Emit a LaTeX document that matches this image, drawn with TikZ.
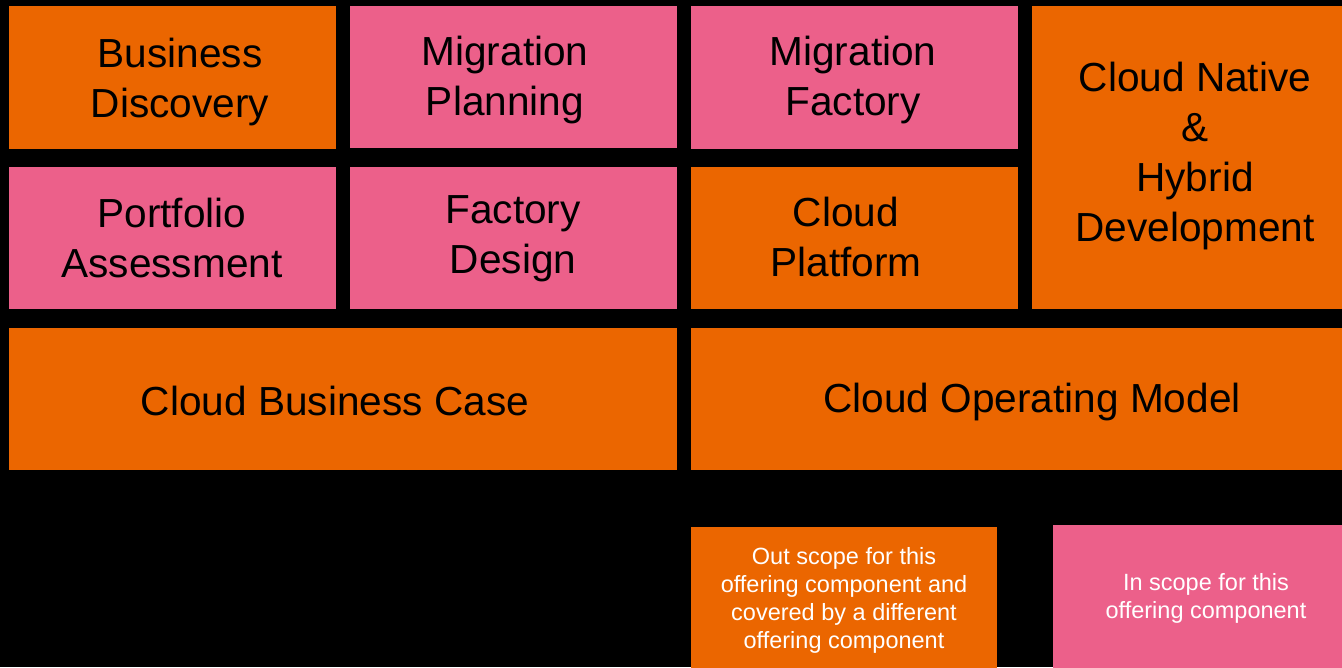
\documentclass[tikz,border=0pt]{standalone}
\usepackage{fontspec}
\setmainfont{Liberation Sans}
\definecolor{tileorange}{RGB}{235,102,0}
\definecolor{tilepink}{RGB}{236,96,138}
\begin{document}
\begin{tikzpicture}[x=1pt,y=-1pt,
  tile/.style={draw=none,inner sep=0pt,outer sep=0pt,anchor=north west},
  outtile/.style={tile,fill=tileorange},
  intile/.style={tile,fill=tilepink},
  bigtext/.style={align=center,inner sep=0pt,text=black,font=\fontsize{40.6}{50}\selectfont},
  keytext/.style={align=center,inner sep=0pt,text=white,font=\fontsize{23.5}{28}\selectfont}]
% black background
\fill[black] (0,0) rectangle (1342,667);
\useasboundingbox (0,0) rectangle (1342,667);
% top two rows of tiles
\node[outtile,minimum width=327,minimum height=143] (bd) at (9,6) {};
\node[intile,minimum width=327,minimum height=142] (mp) at (350,6) {};
\node[intile,minimum width=327,minimum height=143] (mf) at (691,6) {};
\node[outtile,minimum width=310,minimum height=303] (cn) at (1032,6) {};
\node[intile,minimum width=327,minimum height=142] (pa) at (9,167) {};
\node[intile,minimum width=327,minimum height=142] (fd) at (350,167) {};
\node[outtile,minimum width=327,minimum height=142] (cp) at (691,167) {};
% wide tiles
\node[outtile,minimum width=668,minimum height=142] (cbc) at (9,328) {};
\node[outtile,minimum width=651,minimum height=142] (com) at (691,328) {};
% key tiles
\node[outtile,minimum width=306,minimum height=141] (kout) at (691,527) {};
\node[intile,minimum width=290,minimum height=143] (kin) at (1053,525) {};
% labels
\node[bigtext] (tbd) at (180,82) {Business\\Discovery};
\node[bigtext] (tmp) at (505,80) {Migration\\Planning};
\node[bigtext] (tmf) at (853,80) {Migration\\Factory};
\node[bigtext] (tcn) at (1195,156) {Cloud Native\\\&\\Hybrid\\Development};
\node[bigtext] (tpa) at (172,238) {Portfolio\\Assessment};
\node[bigtext] (tfd) at (513,239) {Factory\\Design};
\node[bigtext] (tcp) at (846,237) {Cloud\\Platform};
\node[bigtext] (tcbc) at (335,401) {Cloud Business Case};
\node[bigtext] (tcom) at (1032,402) {Cloud Operating Model};
\node[keytext] (tkout) at (844,600) {Out scope for this\\offering component and\\covered by a different\\offering component};
\node[keytext] (tkin) at (1206,598) {In scope for this\\offering component};
\end{tikzpicture}
\end{document}
